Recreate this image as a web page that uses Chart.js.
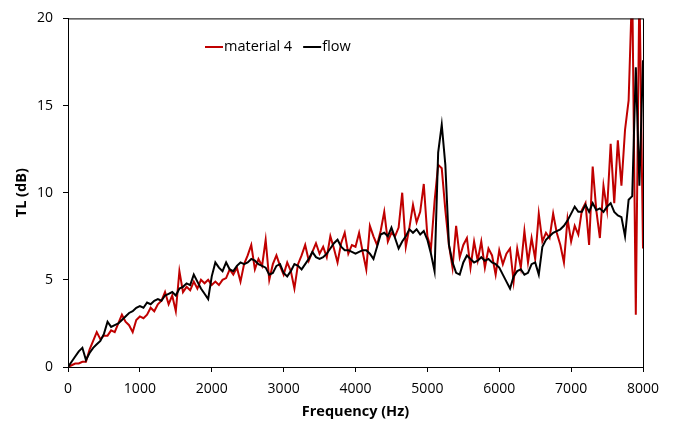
<!DOCTYPE html>
<html lang="en">
<head>
    <meta charset="UTF-8">
    <title>TL x Frequency</title>
    <script src="https://cdn.jsdelivr.net/npm/chart.js"></script>
    <style>
        body { margin: 0; background: #fff; }
        #caixa { width: 675px; height: 425px; }
    </style>
</head>
<body>
    <div id="caixa"><canvas id="graficoTL"></canvas></div>

<script>
    // one point every 50 Hz, 0 .. 8000 Hz
    const passoHz = 50;

    const nomes = ['material 4', 'flow'];

    const material4 = [
        0.0, 0.1, 0.2, 0.2, 0.3, 0.3, 1.0, 1.5, 2.0, 1.6,
        1.8, 1.8, 2.1, 2.0, 2.5, 3.0, 2.6, 2.4, 2.0, 2.7,
        2.9, 2.8, 3.0, 3.4, 3.2, 3.6, 3.8, 4.3, 3.6, 4.1,
        3.2, 5.5, 4.3, 4.6, 4.4, 4.9, 4.5, 5.0, 4.8, 5.0,
        4.7, 4.9, 4.7, 5.0, 5.1, 5.6, 5.3, 5.7, 4.9, 5.9,
        6.4, 7.0, 5.6, 6.2, 5.8, 7.3, 5.0, 5.9, 6.4, 5.8,
        5.3, 6.0, 5.5, 4.5, 5.9, 6.4, 7.0, 6.1, 6.6, 7.1,
        6.5, 6.9, 6.3, 7.5, 6.8, 6.0, 7.1, 7.7, 6.5, 7.0,
        6.9, 7.7, 6.6, 5.6, 8.1, 7.5, 7.0, 7.8, 8.9, 7.2,
        7.7, 7.5, 8.0, 10.0, 6.9, 8.0, 9.3, 8.3, 8.9, 10.5,
        7.5, 6.8, 9.5, 11.6, 11.4, 9.0, 7.0, 5.7, 8.1, 6.3,
        7.0, 7.4, 5.7, 7.2, 6.1, 7.2, 5.7, 6.8, 6.4, 5.3,
        6.7, 5.9, 6.5, 6.8, 4.9, 6.8, 5.7, 7.8, 6.0, 7.4,
        6.2, 8.8, 7.2, 7.7, 7.4, 8.8, 7.7, 7.0, 6.0, 8.5,
        7.2, 8.1, 7.6, 9.0, 9.4, 7.0, 11.5, 9.0, 7.4, 10.4,
        9.0, 12.8, 9.4, 13.0, 10.4, 13.6, 15.3, 22.0, 3.0, 22.0,
        6.8
    ];

    const flow = [
        0.0, 0.3, 0.6, 0.9, 1.1, 0.4, 0.8, 1.1, 1.3, 1.5,
        1.9, 2.6, 2.3, 2.4, 2.5, 2.7, 2.9, 3.1, 3.2, 3.4,
        3.5, 3.4, 3.7, 3.6, 3.8, 3.9, 3.8, 4.1, 4.2, 4.3,
        4.1, 4.5, 4.6, 4.8, 4.7, 5.3, 4.9, 4.5, 4.2, 3.9,
        5.2, 6.0, 5.7, 5.5, 6.0, 5.6, 5.5, 5.8, 6.0, 5.9,
        6.0, 6.2, 6.1, 5.9, 5.8, 5.7, 5.3, 5.4, 5.8, 5.9,
        5.4, 5.2, 5.5, 5.9, 5.8, 5.6, 5.9, 6.2, 6.6, 6.3,
        6.2, 6.3, 6.5, 6.8, 7.1, 7.3, 6.9, 6.7, 6.7, 6.6,
        6.5, 6.6, 6.7, 6.7, 6.5, 6.2, 6.9, 7.6, 7.7, 7.5,
        8.0, 7.4, 6.8, 7.2, 7.5, 7.9, 7.7, 7.9, 7.6, 7.8,
        7.3, 6.5, 5.5, 12.3, 13.9, 11.6, 7.0, 6.0, 5.4, 5.3,
        6.0, 6.4, 6.2, 6.0, 6.1, 6.3, 6.1, 6.2, 6.0, 5.9,
        5.7, 5.3, 4.9, 4.5, 5.2, 5.5, 5.6, 5.3, 5.4, 5.9,
        6.0, 5.3, 6.9, 7.3, 7.5, 7.7, 7.8, 7.9, 8.1, 8.4,
        8.8, 9.2, 8.9, 8.9, 9.3, 8.9, 9.4, 9.0, 9.1, 8.9,
        9.2, 9.4, 8.9, 8.7, 8.6, 7.5, 9.6, 9.8, 17.2, 10.4,
        17.6
    ];

    const ticksX = [0, 1000, 2000, 3000, 4000, 5000, 6000, 7000, 8000];
    const ticksY = [0, 5, 10, 15, 20];

    const fonte = "'Open Sans', 'Noto Sans', sans-serif";

    function pontos(valores) {
        return valores.map((v, i) => ({ x: i * passoHz, y: v }));
    }

    // plot frame + legend inside the plot area
    const moldura = {
        id: 'moldura',
        afterDraw(chart) {
            const ctx = chart.ctx;
            const a = chart.chartArea;
            ctx.save();
            ctx.strokeStyle = '#000';
            ctx.lineWidth = 1;
            ctx.strokeRect(a.left + 0.5, a.top + 0.5, a.right - a.left, a.bottom - a.top);

            ctx.font = '14.5px ' + fonte;
            ctx.textBaseline = 'middle';
            let x = 205;
            const y = 47;
            chart.data.datasets.forEach(ds => {
                ctx.strokeStyle = ds.borderColor;
                ctx.lineWidth = 2;
                ctx.beginPath();
                ctx.moveTo(x, y);
                ctx.lineTo(x + 18, y);
                ctx.stroke();
                ctx.fillStyle = '#000';
                ctx.fillText(ds.label, x + 19, y);
                x += 19 + ctx.measureText(ds.label).width + 11;
            });
            ctx.restore();
        }
    };

    const config = {
        type: 'line',
        data: {
            datasets: [
                {
                    label: nomes[0],
                    data: pontos(material4),
                    borderColor: '#C00000',
                    borderWidth: 2,
                    order: 1
                },
                {
                    label: nomes[1],
                    data: pontos(flow),
                    borderColor: '#000000',
                    borderWidth: 2,
                    order: 0
                }
            ]
        },
        options: {
            responsive: true,
            maintainAspectRatio: false,
            animation: false,
            layout: { padding: { top: 13, right: 32, left: 0, bottom: 0 } },
            elements: { point: { radius: 0 }, line: { tension: 0 } },
            plugins: { legend: { display: false }, tooltip: { enabled: false } },
            scales: {
                x: {
                    type: 'linear',
                    min: 0,
                    max: 8000,
                    afterBuildTicks: axis => { axis.ticks = ticksX.map(v => ({ value: v })); },
                    afterFit: axis => { axis.height = 58; },
                    grid: { drawOnChartArea: false, tickLength: 5, color: '#000' },
                    border: { color: '#000' },
                    ticks: {
                        color: '#000',
                        padding: 9,
                        font: { family: fonte, size: 14 },
                        maxRotation: 0,
                        callback: v => String(v)
                    },
                    title: {
                        display: true,
                        text: 'Frequency (Hz)',
                        color: '#000',
                        font: { family: fonte, size: 14.5, weight: 'bold' },
                        padding: { top: 0, bottom: 4 }
                    }
                },
                y: {
                    min: 0,
                    max: 20,
                    afterBuildTicks: axis => { axis.ticks = ticksY.map(v => ({ value: v })); },
                    afterFit: axis => { axis.width = 68; },
                    grid: { drawOnChartArea: false, tickLength: 5, color: '#000' },
                    border: { color: '#000' },
                    ticks: { color: '#000', padding: 10, font: { family: fonte, size: 14 } },
                    title: {
                        display: true,
                        text: 'TL (dB)',
                        color: '#000',
                        font: { family: fonte, size: 14.5, weight: 'bold' },
                        padding: { top: 13, bottom: 0 }
                    }
                }
            }
        },
        plugins: [moldura]
    };

    new Chart(document.getElementById('graficoTL'), config);
</script>
</body>
</html>
